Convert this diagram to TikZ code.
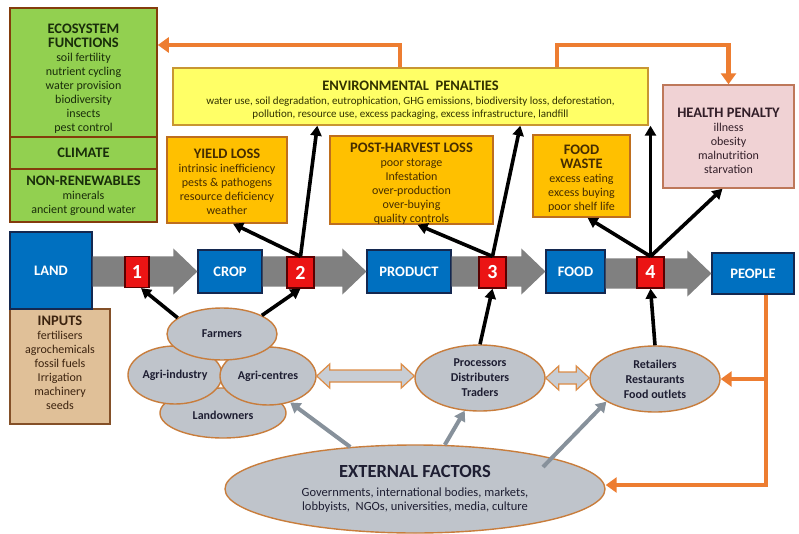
\documentclass[tikz,border=0pt]{standalone}
\usepackage{fontspec}
\setmainfont{Carlito}
\usetikzlibrary{arrows.meta,shapes.geometric,calc}
\definecolor{ecogreen}{RGB}{146,208,80}
\definecolor{ecoborder}{RGB}{132,60,12}
\definecolor{ecotext}{RGB}{25,45,10}
\definecolor{tanfill}{RGB}{224,192,152}
\definecolor{tanborder}{RGB}{132,80,40}
\definecolor{tantext}{RGB}{60,35,15}
\definecolor{bluefill}{RGB}{0,112,192}
\definecolor{blueborder}{RGB}{20,40,80}
\definecolor{redfill}{RGB}{235,20,20}
\definecolor{redborder}{RGB}{90,0,0}
\definecolor{bandgray}{RGB}{128,128,128}
\definecolor{envfill}{RGB}{255,255,102}
\definecolor{envborder}{RGB}{200,150,50}
\definecolor{envtext}{RGB}{50,50,0}
\definecolor{orfill}{RGB}{255,192,0}
\definecolor{orborder}{RGB}{190,110,30}
\definecolor{ortext}{RGB}{70,45,0}
\definecolor{pinkfill}{RGB}{240,210,212}
\definecolor{pinkborder}{RGB}{190,120,90}
\definecolor{pinktext}{RGB}{50,30,40}
\definecolor{ellfill}{RGB}{191,196,203}
\definecolor{ellborder}{RGB}{200,125,60}
\definecolor{elltext}{RGB}{30,30,50}
\definecolor{orangeC}{RGB}{237,125,49}
\definecolor{grayarrow}{RGB}{135,145,155}
\definecolor{dblfill}{RGB}{200,205,212}
\definecolor{dblborder}{RGB}{220,140,70}
\newcommand\boxhead[1]{{\fontsize{14.5}{17}\selectfont\bfseries #1}}
\newcommand\fatarrow[2]{%
  \fill[bandgray] ($(#1.east |- #2.west)+(0,-15)$) -- ($(#2.west)+(-24,-15)$) -- ($(#2.west)+(-24,-23)$) -- (#2.west) -- ($(#2.west)+(-24,23)$) -- ($(#2.west)+(-24,15)$) -- ($(#1.east |- #2.west)+(0,15)$) -- cycle;}
\newcommand\dblarrow[2]{%
  \filldraw[fill=dblfill,draw=dblborder,line width=1.2pt,line join=miter]
    (#1.east) -- ++(13,-12) -- ++(0,6) -- ($(#2.west |- #1.east)+(-13,-6)$) -- ++(0,-6) -- (#2.west |- #1.east) -- ++(-13,12) -- ++(0,-6) -- ($(#1.east)+(13,6)$) -- ++(0,6) -- cycle;}
\begin{document}
\begin{tikzpicture}[x=1pt,y=-1pt,
  every node/.style={inner sep=0pt,align=center},
  greenbox/.style={draw=ecoborder,fill=ecogreen,line width=1.6pt,text=ecotext,font=\fontsize{12}{14}\selectfont},
  tanbox/.style={draw=tanborder,fill=tanfill,line width=1.4pt,text=tantext,font=\fontsize{12}{14}\selectfont},
  bluebox/.style={draw=blueborder,fill=bluefill,line width=1.2pt,text=white,font=\fontsize{14.5}{17}\selectfont\bfseries},
  redbox/.style={draw=redborder,fill=redfill,line width=1.2pt,text=white,font=\fontsize{20}{20}\selectfont\bfseries,minimum width=27,minimum height=31},
  envbox/.style={draw=envborder,fill=envfill,line width=1.4pt,text=envtext,font=\fontsize{11}{13}\selectfont},
  orbox/.style={draw=orborder,fill=orfill,line width=1.4pt,text=ortext,font=\fontsize{12}{14}\selectfont},
  pinkbox/.style={draw=pinkborder,fill=pinkfill,line width=1.4pt,text=pinktext,font=\fontsize{12}{14}\selectfont},
  actor/.style={ellipse,draw=ellborder,fill=ellfill,line width=1.4pt,text=elltext,font=\fontsize{12}{15}\selectfont\bfseries},
  blk/.style={draw=black,line width=3.6pt,-{Triangle[length=10pt,width=11pt]}},
  oarrow/.style={draw=orangeC,line width=4.5pt,-{Triangle[length=11pt,width=15pt]}},
  garrow/.style={draw=grayarrow,line width=4pt,-{Triangle[length=10pt,width=12pt]}}]
\useasboundingbox[fill=white] (0,0) rectangle (799,534);

% left column
\node[greenbox,minimum width=147,minimum height=129] (eco) at (83.5,72.5)
  {\rule{0pt}{22pt}\boxhead{ECOSYSTEM}\\\boxhead{FUNCTIONS}\\soil fertility\\nutrient cycling\\water provision\\biodiversity\\insects\\pest control};
\node[greenbox,minimum width=147,minimum height=32] (climate) at (83.5,153) {\boxhead{CLIMATE}};
\node[greenbox,minimum width=147,minimum height=53] (nonren) at (83.5,195.5)
  {\boxhead{NON-RENEWABLES}\\minerals\\ancient ground water};
\node[tanbox,minimum width=100,minimum height=115] (inputs) at (60,366.5)
  {\boxhead{INPUTS}\\fertilisers\\agrochemicals\\fossil fuels\\Irrigation\\machinery\\seeds\rule[-8pt]{0pt}{8pt}};

% chain boxes
\node[bluebox,minimum width=82,minimum height=77] (land) at (51,270.5) {LAND};
\node[bluebox,minimum width=64,minimum height=43] (crop) at (230,271.5) {CROP};
\node[bluebox,minimum width=84,minimum height=43] (product) at (409,271.5) {PRODUCT};
\node[bluebox,minimum width=59,minimum height=43] (food) at (575.5,271.5) {FOOD};
\node[bluebox,minimum width=82,minimum height=41] (people) at (753,273.5) {PEOPLE};

\fatarrow{land}{crop}
\fatarrow{crop}{product}
\fatarrow{product}{food}
\fatarrow{food}{people}

\node[redbox,minimum width=24] (n1) at (137,272) {1};
\node[redbox] (n2) at (300.5,272.5) {2};
\node[redbox] (n3) at (492.5,272.5) {3};
\node[redbox] (n4) at (650.5,272.5) {4};

% penalty and loss boxes
\node[envbox,minimum width=475,minimum height=57] (env) at (410.5,96.5)
  {\rule{0pt}{16pt}\boxhead{ENVIRONMENTAL\ \ PENALTIES}\\[1pt]
   water use, soil degradation, eutrophication, GHG emissions, biodiversity loss, deforestation,\\
   pollution, resource use, excess packaging, excess infrastructure, landfill};
\node[orbox,minimum width=120,minimum height=86] (yield) at (227,180)
  {\rule{0pt}{14pt}\boxhead{YIELD LOSS}\\intrinsic inefficiency\\pests \& pathogens\\resource deficiency\\weather};
\node[orbox,minimum width=163,minimum height=86] (post) at (411.5,180)
  {\rule{0pt}{16pt}\boxhead{POST-HARVEST LOSS}\\poor storage\\Infestation\\over-production\\over-buying\\quality controls};
\node[orbox,minimum width=97,minimum height=82] (waste) at (581.5,176)
  {\rule{0pt}{14pt}\boxhead{FOOD}\\\boxhead{WASTE}\\excess eating\\excess buying\\poor shelf life};
\node[pinkbox,minimum width=131,minimum height=103] (health) at (728.5,136.5)
  {\rule{0pt}{18pt}\boxhead{HEALTH PENALTY}\\illness\\obesity\\malnutrition\\starvation};

% actors
\node[actor,minimum width=126,minimum height=50] (landown) at (223,413) {\\[-2pt]Landowners};
\node[actor,minimum width=94,minimum height=58] (agriind) at (175,375) {Agri-industry};
\node[actor,minimum width=96,minimum height=58] (agricen) at (268,376) {Agri-centres};
\node[actor,minimum width=110,minimum height=52] (farmers) at (222,334) {Farmers};
\node[actor,minimum width=130,minimum height=66] (proc) at (480,378) {Processors\\Distributers\\Traders};
\node[actor,minimum width=130,minimum height=66] (retail) at (655,379) {Retailers\\Restaurants\\Food outlets};
\node[actor,minimum width=380,minimum height=88,font=\fontsize{12.5}{14}\selectfont] (ext) at (415,489)
  {{\fontsize{18.5}{20}\selectfont\bfseries EXTERNAL FACTORS}\\[5pt]
   Governments, international bodies, markets,\\lobbyists,\ \ NGOs, universities, media, culture};

\dblarrow{agricen}{proc}
\dblarrow{proc}{retail}

% black arrows
\draw[blk] (farmers.160) -- ([xshift=4pt]n1.south);
\draw[blk] (farmers.25) -- (n2.south);
\draw[blk] (n2.north) -- ([xshift=6pt]yield.south);
\draw[blk] (n2.north) -- ($(env.south west)+(145,0)$);
\draw[blk] (n3.north) -- ([xshift=6pt]post.south);
\draw[blk] (n3.north) -- ($(env.south west)+(348,0)$);
\draw[blk] (n4.north) -- ([xshift=6pt]waste.south);
\draw[blk] (n4.north) -- (n4.north |- env.south);
\draw[blk] (n4.north) -- ([xshift=-6pt]health.south);
\draw[blk] (proc.north) -- (n3.south);
\draw[blk] (retail.north) -- (n4.south);

% gray arrows from external factors
\draw[garrow] (ext.147) -- (agricen.-50);
\draw[garrow] (ext.56) -- (proc.245);
\draw[garrow] ($(ext.center)+(128,-22)$) -- (retail.205);

% orange feedback arrows
\coordinate (oL) at (400,45);
\coordinate (oR) at (557,45);
\coordinate (oB) at (766,485);
\draw[oarrow] (oL |- env.north) -- (oL) -- (oL -| eco.east);
\draw[oarrow] (oR |- env.north) -- (oR) -| (health.north);
\draw[oarrow] (people.south -| oB) -- (oB) -- (oB -| ext.east);
\draw[oarrow] (retail.east -| oB) -- (retail.east);
\end{tikzpicture}
\end{document}
